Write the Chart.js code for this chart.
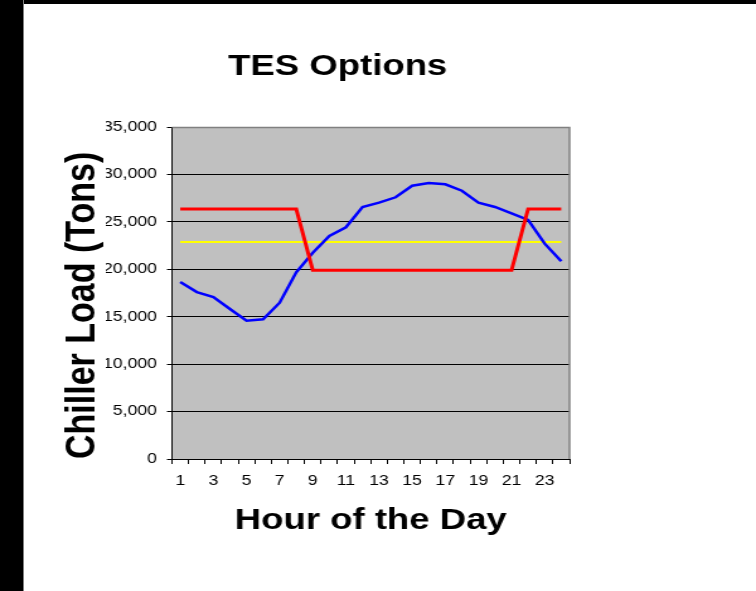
<!DOCTYPE html>
<html>
<head>
<meta charset="utf-8">
<title>TES Options</title>
<script src="https://cdn.jsdelivr.net/npm/chart.js@4/dist/chart.umd.min.js"></script>
<style>
    body { margin: 0; background: #fff; }
    #wrap { position: relative; width: 756px; height: 591px; overflow: hidden; }
    /* drawing buffer is narrower than the box, so the chart comes out wide like the original */
    #tesChart { position: absolute; left: 0; top: 0; width: 756px !important; height: 591px !important; }
    .bar-top { position: absolute; left: 0; top: 0; width: 756px; height: 4px; background: #000; }
    .bar-left { position: absolute; left: 0; top: 0; width: 23px; height: 591px; background: #000; border-right: 1px solid #808080; }
</style>
</head>
<body>
<div id="wrap">
    <canvas id="tesChart" width="600" height="591" style="width:756px;height:591px"></canvas>
    <div class="bar-top"></div>
    <div class="bar-left"></div>
</div>
<script>
// Hours of the day
const hours = ['1', '2', '3', '4', '5', '6', '7', '8', '9', '10', '11', '12',
               '13', '14', '15', '16', '17', '18', '19', '20', '21', '22', '23', '24'];

// Chiller load, tons (blue)
const chillerLoad = [18650, 17600, 17080, 15810, 14580, 14730, 16480, 19680, 21750, 23510, 24430, 26570,
                     27020, 27590, 28810, 29100, 28960, 28280, 27020, 26570, 25900, 25200, 22700, 20850];

// Load leveling, tons (yellow)
const loadLeveling = [22870, 22870, 22870, 22870, 22870, 22870, 22870, 22870, 22870, 22870, 22870, 22870,
                      22870, 22870, 22870, 22870, 22870, 22870, 22870, 22870, 22870, 22870, 22870, 22870];

// Demand limited, tons (red)
const demandLimited = [26350, 26350, 26350, 26350, 26350, 26350, 26350, 26350, 19900, 19900, 19900, 19900,
                       19900, 19900, 19900, 19900, 19900, 19900, 19900, 19900, 19900, 26350, 26350, 26350];

const yTicks = [0, 5000, 10000, 15000, 20000, 25000, 30000, 35000];

const FONT = 'Arial, "Liberation Sans", sans-serif';

// Gray plot area with a gray frame, like the spreadsheet original
const plotArea = {
    id: 'plotArea',
    beforeDraw(chart) {
        const {ctx, chartArea: a} = chart;
        ctx.save();
        ctx.fillStyle = '#C0C0C0';
        ctx.fillRect(a.left, a.top, a.right - a.left, a.bottom - a.top);
        ctx.restore();
    },
    afterDraw(chart) {
        const {ctx, chartArea: a} = chart;
        ctx.save();
        ctx.strokeStyle = '#808080';
        ctx.lineWidth = 1.5;
        ctx.beginPath();
        ctx.moveTo(a.left, a.top + 0.5);
        ctx.lineTo(a.right, a.top + 0.5);
        ctx.lineTo(a.right, a.bottom);
        ctx.stroke();
        ctx.restore();
    }
};

function initTesChart() {
    const ctx = document.getElementById('tesChart').getContext('2d');
    new Chart(ctx, {
        type: 'line',
        data: {
            labels: hours,
            datasets: [
                {
                    label: 'Demand Limited',
                    data: demandLimited,
                    borderColor: '#FF0000',
                    borderWidth: 3
                },
                {
                    label: 'Chiller Load',
                    data: chillerLoad,
                    borderColor: '#0000FF',
                    borderWidth: 2.5
                },
                {
                    label: 'Load Leveling',
                    data: loadLeveling,
                    borderColor: '#FFFF00',
                    borderWidth: 2
                }
            ]
        },
        options: {
            responsive: false,
            animation: false,
            devicePixelRatio: 1,
            elements: {
                point: { radius: 0, hoverRadius: 0 },
                line: { tension: 0, fill: false }
            },
            layout: {
                padding: { top: 0, left: 84, right: 148, bottom: 0 }
            },
            plugins: {
                legend: { display: false },
                tooltip: { enabled: false },
                title: {
                    display: true,
                    text: 'TES Options',
                    color: '#000',
                    font: { family: FONT, size: 29, weight: 'bold' },
                    padding: { top: 50, bottom: 42.2 }
                }
            },
            scales: {
                x: {
                    offset: true,
                    grid: {
                        offset: true,
                        drawOnChartArea: false,
                        drawTicks: true,
                        tickLength: 5,
                        color: '#000'
                    },
                    border: { color: '#000', width: 1 },
                    ticks: {
                        autoSkip: false,
                        maxRotation: 0,
                        padding: 9,
                        color: '#000',
                        font: { family: FONT, size: 14 },
                        callback: function(value, index) {
                            return index % 2 === 0 ? hours[index] : '';
                        }
                    },
                    title: {
                        display: true,
                        text: 'Hour of the Day',
                        color: '#000',
                        font: { family: FONT, size: 29, weight: 'bold' },
                        padding: { top: 0, bottom: 52.5 }
                    },
                    afterFit: function(scale) {
                        scale.height = 591 - 459;
                    }
                },
                y: {
                    min: yTicks[0],
                    max: yTicks[yTicks.length - 1],
                    afterBuildTicks: function(scale) {
                        scale.ticks = yTicks.map(v => ({ value: v }));
                    },
                    grid: {
                        color: function(context) {
                            return context.tick && context.tick.value === 35000 ? '#808080' : '#000';
                        },
                        tickColor: '#000',
                        tickLength: 4,
                        lineWidth: 1
                    },
                    border: { color: '#000', width: 1 },
                    ticks: {
                        padding: 8,
                        color: '#000',
                        font: { family: FONT, size: 14 },
                        callback: function(value) {
                            return value.toLocaleString('en-US');
                        }
                    },
                    title: {
                        display: true,
                        text: 'Chiller Load (Tons)',
                        align: 'start',
                        color: '#000',
                        font: { family: FONT, size: 34, weight: 'bold' },
                        padding: { top: -38.5, bottom: 0 }
                    },
                    afterFit: function(scale) {
                        scale.width = 52.5;
                    }
                }
            }
        },
        plugins: [plotArea]
    });
}

document.addEventListener('DOMContentLoaded', () => {
    initTesChart();
});
</script>
</body>
</html>
